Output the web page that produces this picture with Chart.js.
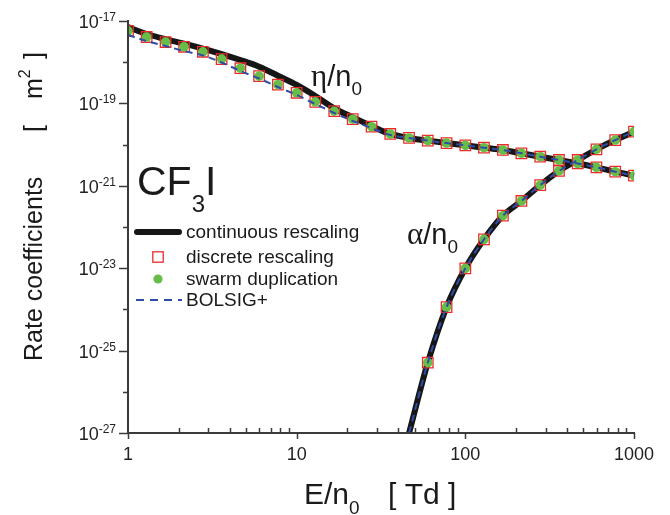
<!DOCTYPE html>
<html>
<head>
<meta charset="utf-8">
<title>CF3I rate coefficients</title>
<script src="https://cdn.jsdelivr.net/npm/chart.js@4.4.1/dist/chart.umd.min.js"></script>
<style>
  html, body { margin: 0; padding: 0; background: #fff; }
  #chart-wrap { width: 670px; height: 515px; }
  canvas { display: block; }
</style>
</head>
<body>
<div id="chart-wrap"><canvas id="rate-chart" width="670" height="515"></canvas></div>
<script>
// E/n0 [Td] where the simulations were sampled
const eValues = [1, 1.29, 1.67, 2.15, 2.78, 3.59, 4.64, 5.99, 7.74, 10, 12.9, 16.7, 21.5, 27.8, 35.9,
  46.4, 59.9, 77.4, 100, 129, 167, 215, 278, 359, 464, 599, 774, 1000];

// attachment eta/n0 [m^2]
const etaMarkers = [5.78e-18, 4.09e-18, 3.09e-18, 2.37e-18, 1.79e-18, 1.19e-18, 7.14e-19, 4.60e-19, 2.84e-19,
  1.81e-19, 1.09e-19, 6.47e-20, 4.14e-20, 2.72e-20, 1.81e-20, 1.45e-20, 1.25e-20, 1.09e-20, 9.6e-21, 8.4e-21,
  7.4e-21, 6.15e-21, 5.08e-21, 4.23e-21, 3.48e-21, 2.81e-21, 2.20e-21, 1.76e-21];
const etaContinuous = [7.14e-18, 4.83e-18, 3.60e-18, 2.81e-18, 2.13e-18, 1.58e-18, 1.13e-18, 7.78e-19, 4.70e-19,
  2.80e-19, 1.51e-19, 7.60e-20, 4.60e-20, 2.82e-20, 1.81e-20, 1.45e-20, 1.25e-20, 1.09e-20, 9.6e-21, 8.4e-21,
  7.4e-21, 6.15e-21, 5.08e-21, 4.23e-21, 3.48e-21, 2.81e-21, 2.20e-21, 1.76e-21];
const etaBolsig = [4.57e-18, 3.27e-18, 2.47e-18, 1.87e-18, 1.46e-18, 9.84e-19, 6.11e-19, 4.02e-19, 2.50e-19,
  1.60e-19, 9.66e-20, 5.85e-20, 3.74e-20, 2.53e-20, 1.71e-20, 1.45e-20, 1.25e-20, 1.09e-20, 9.6e-21, 8.4e-21,
  7.4e-21, 6.15e-21, 5.08e-21, 4.23e-21, 3.48e-21, 2.81e-21, 2.20e-21, 1.76e-21];

// ionization alpha/n0 [m^2]
const alphaLineE = [46.4, 59.9, 77.4, 100, 129, 167, 215, 278, 359, 464, 599, 774, 1000];
const alphaContinuous = [1.0e-27, 5.08e-26, 1.14e-24, 9.93e-24, 5.02e-23, 1.88e-22, 4.28e-22, 1.04e-21,
  2.29e-21, 4.23e-21, 7.69e-21, 1.29e-20, 2.06e-20];
const alphaBolsig = [1.0e-27, 5.08e-26, 1.14e-24, 9.93e-24, 5.02e-23, 1.88e-22, 4.28e-22, 1.04e-21,
  2.29e-21, 4.23e-21, 7.69e-21, 1.29e-20, 2.06e-20];
const alphaMarkerE = [59.9, 77.4, 100, 129, 167, 215, 278, 359, 464, 599, 774, 1000];
const alphaMarkers = [5.08e-26, 1.14e-24, 9.93e-24, 5.02e-23, 1.88e-22, 4.28e-22, 1.04e-21,
  2.29e-21, 4.23e-21, 7.69e-21, 1.29e-20, 2.06e-20];

// axis ticks
const xMajorTicks = [1, 10, 100, 1000];
const xMinorTicks = [2, 3, 4, 5, 6, 7, 8, 9, 20, 30, 40, 50, 60, 70, 80, 90, 200, 300, 400, 500, 600, 700, 800, 900];
const yTickExponents = [-17, -18, -19, -20, -21, -22, -23, -24, -25, -26, -27];
const yLabelExponents = [-17, -19, -21, -23, -25, -27];

const legendLabels = ['continuous rescaling', 'discrete rescaling', 'swarm duplication', 'BOLSIG+'];

const BLACK = '#161616';
const RED = '#ec2a2a';
const GREEN = '#68bd48';
const BLUE = '#2d4ea6';
const AXIS = '#3a3a3a';
const SANS = "'Liberation Sans', Arial, sans-serif";
const SERIF = "'Liberation Serif', 'Times New Roman', serif";

function toPoints(xs, ys) {
  return xs.map((x, i) => ({ x: x, y: ys[i] }));
}

// draws a run of text pieces one after another on a shared baseline
function drawRun(ctx, x, y, parts) {
  let cx = x;
  parts.forEach(p => {
    ctx.font = p.font;
    ctx.fillText(p.text, cx, y + (p.dy || 0));
    cx += ctx.measureText(p.text).width;
  });
  return cx;
}

const decorPlugin = {
  id: 'decor',
  afterDraw(chart) {
    const ctx = chart.ctx;
    const area = chart.chartArea;
    const xs = chart.scales.x;
    const ys = chart.scales.y;
    ctx.save();

    // axis lines
    ctx.strokeStyle = AXIS;
    ctx.lineWidth = 2;
    ctx.beginPath();
    ctx.moveTo(area.left, area.top - 1);
    ctx.lineTo(area.left, area.bottom);
    ctx.lineTo(area.right + 1, area.bottom);
    ctx.stroke();

    // y ticks, outside
    ctx.lineWidth = 1.5;
    yTickExponents.forEach(e => {
      const py = Math.round(ys.getPixelForValue(Math.pow(10, e))) + 0.5;
      const len = yLabelExponents.includes(e) ? 9 : 5;
      ctx.beginPath();
      ctx.moveTo(area.left - len, py);
      ctx.lineTo(area.left, py);
      ctx.stroke();
    });

    // x ticks: major out, minor in
    xMajorTicks.forEach(v => {
      const px = Math.round(xs.getPixelForValue(v)) + 0.5;
      ctx.beginPath();
      ctx.moveTo(px, area.bottom);
      ctx.lineTo(px, area.bottom + 6);
      ctx.stroke();
    });
    xMinorTicks.forEach(v => {
      const px = Math.round(xs.getPixelForValue(v)) + 0.5;
      ctx.beginPath();
      ctx.moveTo(px, area.bottom);
      ctx.lineTo(px, area.bottom - 5);
      ctx.stroke();
    });

    ctx.fillStyle = '#222';

    // y tick labels 10^-n
    yLabelExponents.forEach(e => {
      const py = ys.getPixelForValue(Math.pow(10, e));
      ctx.font = '12px ' + SANS;
      const sup = String(e);
      const supW = ctx.measureText(sup).width;
      const supX = area.left - 12 - supW;
      ctx.textBaseline = 'alphabetic';
      ctx.textAlign = 'left';
      ctx.fillText(sup, supX, py);
      ctx.font = '18px ' + SANS;
      ctx.textAlign = 'right';
      ctx.fillText('10', supX, py + 7);
    });

    // x tick labels
    ctx.textAlign = 'center';
    ctx.textBaseline = 'alphabetic';
    ctx.font = '18px ' + SANS;
    xMajorTicks.forEach(v => {
      ctx.fillText(String(v), xs.getPixelForValue(v), area.bottom + 27);
    });

    ctx.textAlign = 'left';
    ctx.fillStyle = '#1a1a1a';

    // x axis title
    drawRun(ctx, 304, 504, [
      { text: 'E/n', font: '30px ' + SANS },
      { text: '0', font: '19px ' + SANS, dy: 10 }
    ]);
    drawRun(ctx, 388, 504, [{ text: '[ Td ]', font: '30px ' + SANS }]);

    // y axis title, rotated
    ctx.save();
    ctx.translate(42, 361);
    ctx.rotate(-Math.PI / 2);
    drawRun(ctx, 0, 0, [{ text: 'Rate coefficients', font: '25px ' + SANS }]);
    drawRun(ctx, 229, 0, [{ text: '[', font: '25px ' + SANS }]);
    drawRun(ctx, 262, 0, [
      { text: 'm', font: '25px ' + SANS },
      { text: '2', font: '16px ' + SANS, dy: -12 }
    ]);
    drawRun(ctx, 302, 0, [{ text: ']', font: '25px ' + SANS }]);
    ctx.restore();

    // gas label
    drawRun(ctx, 137, 195, [
      { text: 'CF', font: '41px ' + SANS },
      { text: '3', font: '24px ' + SANS, dy: 17 },
      { text: 'I', font: '41px ' + SANS }
    ]);

    // curve labels
    drawRun(ctx, 311, 86, [
      { text: '\u03b7', font: '31px ' + SERIF },
      { text: '/n', font: '29px ' + SANS },
      { text: '0', font: '19px ' + SANS, dy: 9 }
    ]);
    drawRun(ctx, 407, 244, [
      { text: '\u03b1', font: '31px ' + SERIF },
      { text: '/n', font: '29px ' + SANS },
      { text: '0', font: '19px ' + SANS, dy: 9 }
    ]);

    // legend
    const rowY = [232, 257, 279, 300];
    const symX = 158;
    ctx.lineCap = 'round';
    ctx.strokeStyle = BLACK;
    ctx.lineWidth = 6;
    ctx.beginPath();
    ctx.moveTo(137, rowY[0]);
    ctx.lineTo(179, rowY[0]);
    ctx.stroke();
    ctx.lineCap = 'butt';
    ctx.strokeStyle = RED;
    ctx.lineWidth = 1.3;
    ctx.strokeRect(symX - 5.2, rowY[1] - 5.2, 10.4, 10.4);
    ctx.fillStyle = GREEN;
    ctx.beginPath();
    ctx.arc(symX, rowY[2], 4.6, 0, Math.PI * 2);
    ctx.fill();
    ctx.strokeStyle = BLUE;
    ctx.lineWidth = 2;
    ctx.setLineDash([8, 6]);
    ctx.beginPath();
    ctx.moveTo(136, rowY[3]);
    ctx.lineTo(182, rowY[3]);
    ctx.stroke();
    ctx.setLineDash([]);

    ctx.fillStyle = '#1a1a1a';
    ctx.font = '19px ' + SANS;
    ctx.textBaseline = 'middle';
    legendLabels.forEach((label, i) => {
      ctx.fillText(label, 186, rowY[i] + 1);
    });

    ctx.restore();
  }
};

const lineBase = { showLine: true, pointRadius: 0, fill: false, cubicInterpolationMode: 'monotone', clip: 4 };

new Chart(document.getElementById('rate-chart'), {
  type: 'scatter',
  data: {
    datasets: [
      Object.assign({}, lineBase, {
        label: 'BOLSIG+ eta', data: toPoints(eValues, etaBolsig), order: 0,
        borderColor: BLUE, borderWidth: 2, borderDash: [7, 5]
      }),
      Object.assign({}, lineBase, {
        label: 'BOLSIG+ alpha', data: toPoints(alphaLineE, alphaBolsig), order: 0,
        borderColor: BLUE, borderWidth: 2, borderDash: [7, 5]
      }),
      {
        label: 'swarm eta', data: toPoints(eValues, etaMarkers), order: 1, showLine: false,
        pointStyle: 'circle', pointRadius: 4.8, backgroundColor: GREEN, borderWidth: 0
      },
      {
        label: 'swarm alpha', data: toPoints(alphaMarkerE, alphaMarkers), order: 1, showLine: false,
        pointStyle: 'circle', pointRadius: 4.8, backgroundColor: GREEN, borderWidth: 0
      },
      {
        label: 'discrete eta', data: toPoints(eValues, etaMarkers), order: 2, showLine: false,
        pointStyle: 'rect', pointRadius: 7.4, backgroundColor: 'rgba(0,0,0,0)', borderColor: RED, borderWidth: 1.3
      },
      {
        label: 'discrete alpha', data: toPoints(alphaMarkerE, alphaMarkers), order: 2, showLine: false,
        pointStyle: 'rect', pointRadius: 7.4, backgroundColor: 'rgba(0,0,0,0)', borderColor: RED, borderWidth: 1.3
      },
      Object.assign({}, lineBase, {
        label: 'continuous eta', data: toPoints(eValues, etaContinuous), order: 3,
        borderColor: BLACK, borderWidth: 6
      }),
      Object.assign({}, lineBase, {
        label: 'continuous alpha', data: toPoints(alphaLineE, alphaContinuous), order: 3,
        borderColor: BLACK, borderWidth: 6, clip: 0
      })
    ]
  },
  options: {
    responsive: false,
    animation: false,
    events: [],
    layout: { padding: { left: 128, top: 21, right: 36, bottom: 82 } },
    plugins: { legend: { display: false }, tooltip: { enabled: false }, title: { display: false } },
    scales: {
      x: { type: 'logarithmic', min: 1, max: 1000, display: false },
      y: { type: 'logarithmic', min: 1e-27, max: 1e-17, display: false }
    }
  },
  plugins: [decorPlugin]
});
</script>
</body>
</html>
